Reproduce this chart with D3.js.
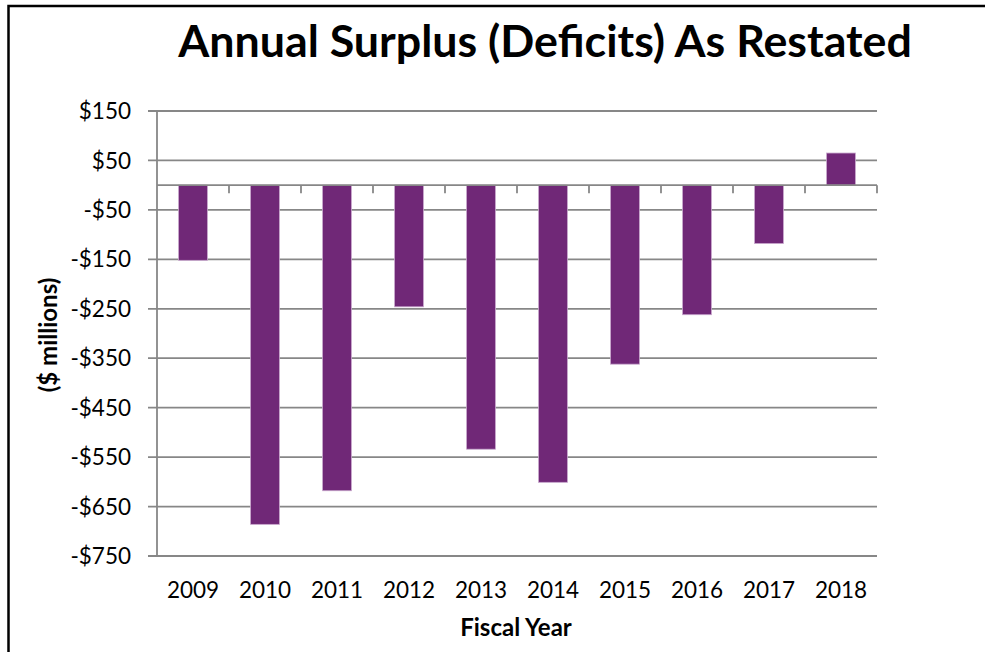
<!DOCTYPE html>
<html>
<head>
<meta charset="utf-8">
<script src="https://cdn.jsdelivr.net/npm/d3@7"></script>
<style>
  html, body { margin: 0; padding: 0; background: #fff; }
  svg { display: block; font-family: Lato, "Open Sans", sans-serif; }
</style>
</head>
<body>
<div id="chart"></div>
<script>
const years = ["2009", "2010", "2011", "2012", "2013", "2014", "2015", "2016", "2017", "2018"];
const surplus = [-152, -686, -618, -246, -534, -601, -362, -262, -118, 65];
const yTicks = [150, 50, -50, -150, -250, -350, -450, -550, -650, -750];

const width = 985;
const height = 652;
const plotLeft = 157, plotRight = 877, plotTop = 111, plotBottom = 556;

const svg = d3.select("#chart")
  .append("svg")
  .attr("width", width)
  .attr("height", height);

// outer chart frame
svg.append("rect")
  .attr("x", 8.5).attr("y", 6)
  .attr("width", 1000).attr("height", 700)
  .attr("fill", "none")
  .attr("stroke", "#000")
  .attr("stroke-width", 2.5);

const x = d3.scaleBand()
  .domain(years)
  .range([plotLeft, plotRight])
  .paddingInner(0.6)
  .paddingOuter(0.3);

const y = d3.scaleLinear()
  .domain([-750, 150])
  .range([plotBottom, plotTop]);

const grey = "#878787";

// gridlines + left ticks
svg.append("g")
  .selectAll("line")
  .data(yTicks)
  .join("line")
  .attr("x1", plotLeft - 9)
  .attr("x2", plotRight)
  .attr("y1", d => y(d))
  .attr("y2", d => y(d))
  .attr("stroke", grey)
  .attr("stroke-width", 1.8);

// y tick labels
svg.append("g")
  .selectAll("text")
  .data(yTicks)
  .join("text")
  .attr("x", 131)
  .attr("y", d => y(d))
  .attr("dy", "0.36em")
  .attr("text-anchor", "end")
  .attr("font-size", 22.5)
  .attr("fill", "#000")
  .text(d => (d < 0 ? "-$" : "$") + Math.abs(d));

// vertical axis line
svg.append("line")
  .attr("x1", plotLeft).attr("x2", plotLeft)
  .attr("y1", plotTop).attr("y2", plotBottom)
  .attr("stroke", grey)
  .attr("stroke-width", 1.8);

// bars
svg.append("g")
  .selectAll("rect")
  .data(years)
  .join("rect")
  .attr("x", d => x(d))
  .attr("width", x.bandwidth())
  .attr("y", (d, i) => y(Math.max(0, surplus[i])))
  .attr("height", (d, i) => Math.abs(y(surplus[i]) - y(0)))
  .attr("fill", "#702877")
  .attr("stroke", "#c7a6cc")
  .attr("stroke-width", 0.8);

// zero category axis with tick marks
const step = (plotRight - plotLeft) / years.length;
svg.append("line")
  .attr("x1", plotLeft).attr("x2", plotRight)
  .attr("y1", y(0)).attr("y2", y(0))
  .attr("stroke", grey)
  .attr("stroke-width", 1.8);

svg.append("g")
  .selectAll("line")
  .data(d3.range(1, years.length + 1))
  .join("line")
  .attr("x1", i => plotLeft + i * step)
  .attr("x2", i => plotLeft + i * step)
  .attr("y1", y(0))
  .attr("y2", y(0) + 8)
  .attr("stroke", grey)
  .attr("stroke-width", 1.8);

// x labels
svg.append("g")
  .selectAll("text")
  .data(years)
  .join("text")
  .attr("x", d => x(d) + x.bandwidth() / 2)
  .attr("y", 598)
  .attr("text-anchor", "middle")
  .attr("font-size", 22.5)
  .attr("fill", "#000")
  .text(d => d);

// title
const title = svg.append("text")
  .attr("x", 545)
  .attr("y", 57)
  .attr("text-anchor", "middle")
  .attr("font-weight", "bold")
  .attr("font-size", 40)
  .text("Annual Surplus (Deficits) As Restated");
const tw = title.node().getComputedTextLength();
title.attr("font-size", 40 * 734 / tw);

// axis titles
svg.append("text")
  .attr("x", 516)
  .attr("y", 636)
  .attr("text-anchor", "middle")
  .attr("font-weight", "bold")
  .attr("font-size", 24)
  .text("Fiscal Year");

svg.append("text")
  .attr("transform", "translate(57,335) rotate(-90)")
  .attr("text-anchor", "middle")
  .attr("font-weight", "bold")
  .attr("font-size", 24)
  .text("($ millions)");
</script>
</body>
</html>
